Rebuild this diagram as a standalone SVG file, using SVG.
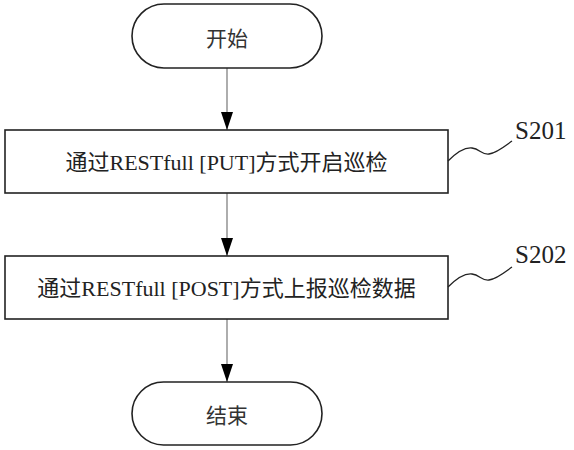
<svg xmlns="http://www.w3.org/2000/svg" width="574" height="450" viewBox="0 0 574 450">
<style>
.node{fill:#fff;stroke:#222;stroke-width:1.6}
.conn{stroke:#777;stroke-width:1.2;fill:none}
.sq{stroke:#222;stroke-width:1.3;fill:none}
.t{font-family:"Liberation Serif","Noto Sans CJK SC",serif;font-size:22px;fill:#222;text-anchor:middle;dominant-baseline:central}
.ts{font-family:"Noto Sans CJK SC",sans-serif;font-size:21px;fill:#333;text-anchor:middle;dominant-baseline:central}
.lbl{font-family:"Liberation Serif",serif;font-size:25px;fill:#222}
</style>
<defs>
<marker id="ah" markerWidth="18" markerHeight="12" refX="18" refY="6" orient="auto" markerUnits="userSpaceOnUse">
<path d="M0,0 L18,6 L0,12 Z" fill="#000"/>
</marker>
</defs>
<g id="connectors">
<line class="conn" x1="227" y1="68" x2="227" y2="130" marker-end="url(#ah)"/>
<line class="conn" x1="227" y1="193" x2="227" y2="256" marker-end="url(#ah)"/>
<line class="conn" x1="227" y1="319" x2="227" y2="382" marker-end="url(#ah)"/>
</g>
<g id="start">
<rect class="node" x="132" y="4" width="190" height="64" rx="32" ry="32"/>
<text class="ts" x="227" y="37">开始</text>
</g>
<g id="s201">
<rect class="node" x="5" y="130" width="443" height="63"/>
<text class="t" x="226.5" y="162">通过RESTfull [PUT]方式开启巡检</text>
<path class="sq" d="M448,161 C456,153 464,147 472,148 C480,149 482,155 489,154 C497,153 505,146 512,141"/>
<text class="lbl" x="515" y="139">S201</text>
</g>
<g id="s202">
<rect class="node" x="5" y="256" width="443" height="63"/>
<text class="t" x="226.5" y="288">通过RESTfull [POST]方式上报巡检数据</text>
<path class="sq" d="M448,287 C456,279 464,273 472,274 C480,275 482,281 489,280 C497,279 505,272 512,267"/>
<text class="lbl" x="515" y="263">S202</text>
</g>
<g id="end">
<rect class="node" x="132" y="382" width="190" height="63" rx="31.5" ry="31.5"/>
<text class="ts" x="227" y="414">结束</text>
</g>
</svg>
